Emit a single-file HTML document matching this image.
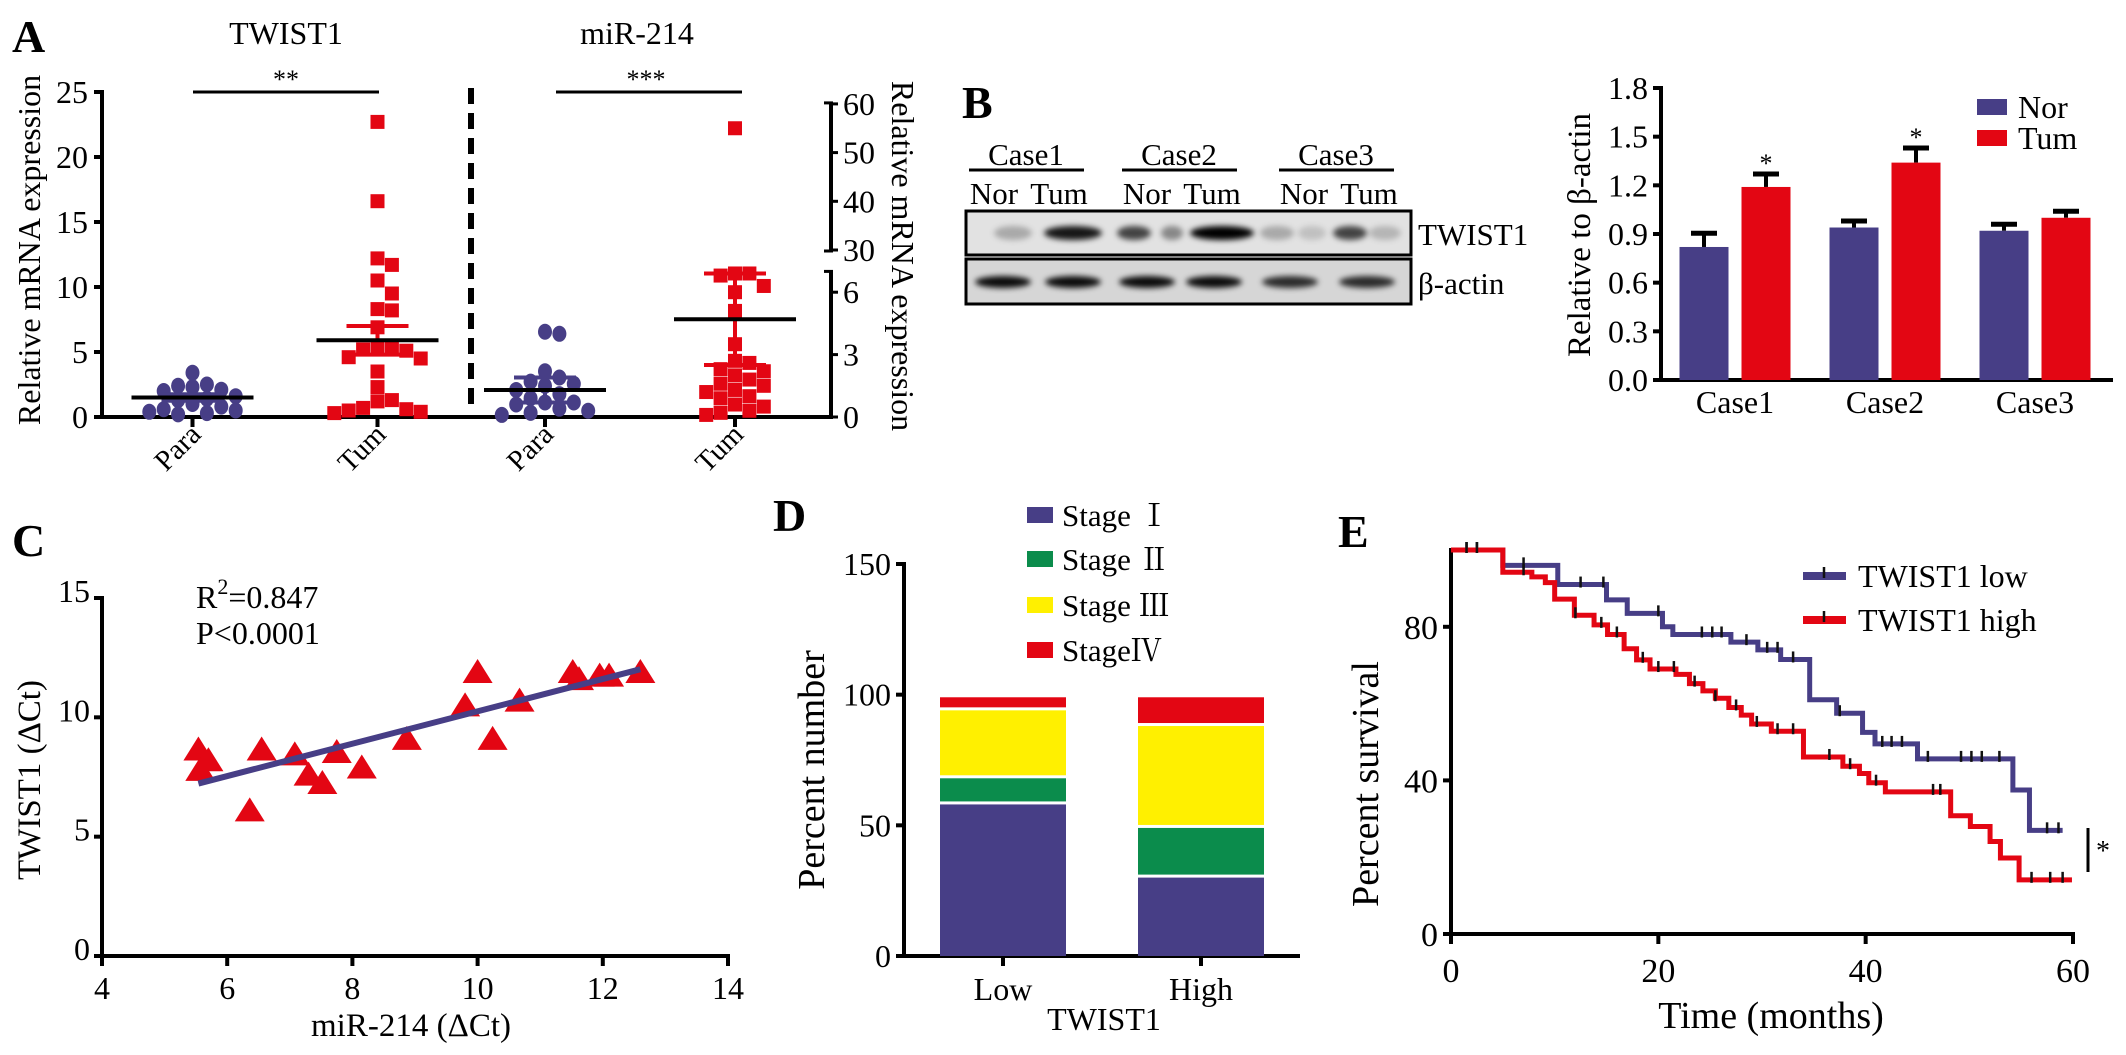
<!DOCTYPE html>
<html><head><meta charset="utf-8"><style>
html,body{margin:0;padding:0;background:#fff;}
svg{display:block;}
svg text{font-family:"Liberation Serif","Noto Serif CJK SC",serif;}
</style></head><body>
<svg id="fig" width="2126" height="1055" viewBox="0 0 2126 1055" xmlns="http://www.w3.org/2000/svg" font-family="Liberation Serif, Noto Serif CJK SC, serif">
<defs><filter id="blur" x="-50%" y="-50%" width="200%" height="200%"><feGaussianBlur stdDeviation="3"/></filter></defs>
<g id="panelA">
<text x="12" y="52" font-size="46" font-weight="bold">A</text>
<text x="286" y="44" font-size="32" text-anchor="middle">TWIST1</text>
<text x="637" y="44" font-size="32" text-anchor="middle">miR-214</text>
<text x="286" y="88" font-size="26" text-anchor="middle">**</text>
<line x1="193" y1="92" x2="379" y2="92" stroke="#000" stroke-width="3"/>
<text x="646" y="88" font-size="26" text-anchor="middle">***</text>
<line x1="556" y1="92" x2="742" y2="92" stroke="#000" stroke-width="3"/>
<line x1="471" y1="88" x2="471" y2="408" stroke="#000" stroke-width="6" stroke-dasharray="16,9"/>
<text transform="translate(40,250) rotate(-90)" font-size="32" text-anchor="middle">Relative mRNA expression</text>
<text transform="translate(892,256) rotate(90)" font-size="32" text-anchor="middle">Relative mRNA expression</text>
</g>
<g id="panelB">
<text x="962" y="118" font-size="46" font-weight="bold">B</text>
<rect x="966" y="211" width="445" height="44" fill="#e2e2e2" stroke="#000" stroke-width="3"/>
<rect x="966" y="259" width="445" height="45" fill="#d6d6d6" stroke="#000" stroke-width="3"/>
<text x="1418" y="245" font-size="31">TWIST1</text>
<text x="1418" y="294" font-size="31">β-actin</text>
<text transform="translate(1590,235) rotate(-90)" font-size="33" text-anchor="middle">Relative to β-actin</text>
</g>
<g id="panelC">
<text x="12" y="556" font-size="46" font-weight="bold">C</text>
<text x="196" y="608" font-size="32">R<tspan dy="-14" font-size="22">2</tspan><tspan dy="14">=0.847</tspan></text>
<text x="196" y="644" font-size="32">P&lt;0.0001</text>
<text transform="translate(40,780) rotate(-90)" font-size="33" text-anchor="middle">TWIST1 (ΔCt)</text>
<text x="411" y="1036" font-size="33" text-anchor="middle">miR-214 (ΔCt)</text>
</g>
<g id="panelD">
<text x="773" y="531" font-size="46" font-weight="bold">D</text>
<text transform="translate(824,770) rotate(-90)" font-size="38" text-anchor="middle">Percent number</text>
<text x="1104" y="1030" font-size="32" text-anchor="middle">TWIST1</text>
</g>
<g id="panelE">
<text x="1338" y="547" font-size="46" font-weight="bold">E</text>
<text transform="translate(1378,784) rotate(-90)" font-size="38" text-anchor="middle">Percent survival</text>
<text x="1771" y="1028" font-size="38" text-anchor="middle">Time (months)</text>
<line x1="2088" y1="828" x2="2088" y2="872" stroke="#000" stroke-width="3"/>
<text x="2096" y="860" font-size="28">*</text>
</g>
</svg>
<script>
// ---------- Panel A data ----------
const aCats = ['Para','Tum','Para','Tum'];
const twistPara = [3.4,2.5,2.4,2.3,2.1,2.0,1.6,1.4,1.3,1.0,0.8,0.6,0.5,0.4,0.3,0.2];
const twistTum = [22.7,16.6,12.2,11.7,10.5,9.5,8.3,8.2,6.9,5.3,5.3,5.2,5.1,4.6,4.5,3.5,2.3,1.3,1.2,0.7,0.6,0.5,0.4,0.3];
const mirPara = [4.1,4.0,2.2,1.9,1.7,1.6,1.5,1.3,1.1,0.9,0.7,0.7,0.6,0.4,0.3,0.2,0.1];
const mirTum = [55,6.9,6.9,6.8,6.3,6.0,5.1,3.5,2.7,2.6,2.3,2.2,2.0,1.8,1.6,1.5,1.3,1.2,1.0,0.9,0.6,0.5,0.3,0.2,0.1];
const aMeans = [1.5,5.9,1.3,4.7];
const aErrs = [0.25,1.1,0.6,2.2];
const aLeftTicks = [0,5,10,15,20,25];
const aRightTicksLow = [0,3,6];
const aRightTicksHigh = [30,40,50,60];
// ---------- Panel B data ----------
const bCases = ['Case1','Case2','Case3'];
const bNor = [0.82,0.94,0.92];
const bTum = [1.19,1.34,1.00];
const bNorErr = [0.085,0.04,0.04];
const bTumErr = [0.08,0.09,0.04];
const bSig = ['*','*',''];
const bTicks = [0.0,0.3,0.6,0.9,1.2,1.5,1.8];
const bSeries = ['Nor','Tum'];
// ---------- Panel C data ----------
const cX = [5.54,5.57,5.7,6.36,6.55,7.08,7.3,7.52,7.75,8.15,8.87,9.8,10.0,10.24,10.67,11.52,11.62,11.95,12.1,12.6];
const cY = [8.65,7.8,8.2,6.1,8.65,8.45,7.6,7.25,8.55,7.9,9.1,10.5,11.9,9.1,10.7,11.9,11.6,11.75,11.75,11.9];
const cXTicks = [4,6,8,10,12,14];
const cYTicks = [0,5,10,15];
// ---------- Panel D data ----------
const dGroups = ['Low','High'];
const dStages = ['Stage Ⅰ','Stage Ⅱ','Stage Ⅲ','StageⅣ'];
const dLow = [58,10,26,5];
const dHigh = [30,19,39,11];
const dTicks = [0,50,100,150];
// ---------- Panel E data ----------
const eLowT = [5,10.3,15,17,20.4,21.4,27,29.6,31.8,34.6,37.2,39.7,40.9,45,54.2,55.8];
const eLowS = [96,91,87,83.5,80,78,76,74,71.5,61,57.5,52.5,49.5,45.6,37.5,27];
const eLowEnd = 59;
const eLowCens = [1.5,2.5,7,12.5,14.7,20,24.2,25.2,26.1,28.5,30.5,31.5,33,37.5,41.6,42.5,43.5,46,49.2,50.2,51.2,52.9,57.5,58.6];
const eHighT = [5,7.8,9.1,10,11.9,13.8,15.1,16.7,17.9,19.2,21.7,23,24.3,25.5,26.8,28,29,30.9,34,37.8,39.4,40.3,41.9,48.2,50.1,52,53,54.8];
const eHighS = [94.2,93,91.5,87.2,83,80.5,78,74.3,71.4,69,67.6,65.2,63.3,61.4,59,57,54.7,52.8,46.1,43.7,41.8,39.4,37,30.8,28,24.1,19.8,14.1];
const eHighEnd = 59.9;
const eHighCens = [1.5,2.5,7,12,14.5,16,18.5,20,21.5,23.5,25.5,27.5,29.5,31.5,33,36.5,38.5,41,46.5,47.2,56,57.8,59];
const eXTicks = [0,20,40,60];
const eYTicks = [0,40,80];
const eSeries = ['TWIST1 low','TWIST1 high'];

const NS='http://www.w3.org/2000/svg';
const svg=document.getElementById('fig');
const BLUE='#473e86', RED='#e30613', GREEN='#0b8c4c', YEL='#fff000';
const FONT='Liberation Serif, Noto Serif CJK SC, serif';
function mk(tag,attrs,parent){const e=document.createElementNS(NS,tag);for(const k in attrs)e.setAttribute(k,attrs[k]);(parent||svg).appendChild(e);return e;}
function line(x1,y1,x2,y2,w,c){return mk('line',{x1:x1,y1:y1,x2:x2,y2:y2,stroke:c||'#000','stroke-width':w||4});}
function txt(x,y,s,size,anchor){const t=mk('text',{x:x,y:y,'font-size':size,'font-family':FONT,'text-anchor':anchor||'middle'});t.textContent=s;return t;}

// ===== Panel A =====
const aY0=417, aY25=92;
const yAL = v => aY0 - (aY0-aY25)*v/25;
const yAR = v => v<=7 ? 417 - v*20.8 : 250 - (v-30)*4.87;
const xA = i => { const g=Math.floor(i/2), k=i%2; const r = g===0?[100,470]:[450,830]; const bw=(r[1]-r[0])/2; return r[0]+bw*(k+0.5); };
let e;
e=line(102,90,102,419,4);


e=line(100,417,833,417,4);


aLeftTicks.forEach(v=>{
  e=line(94,yAL(v),102,yAL(v),4);
  
  
  e=txt(88,yAL(v)+11,String(v),32,'end');
  
  
});
e=line(831,yAR(60)-2,831,yAR(30)+2,4);


e=line(831,yAR(7),831,419,4);


[yAR(60)-1,yAR(30)+1,yAR(7)].forEach(y=>{ e=line(824,y,833,y,3);   });
aRightTicksLow.concat(aRightTicksHigh).forEach(v=>{
  e=line(831,yAR(v),838,yAR(v),3);
  
  
  e=txt(843,yAR(v)+11,String(v),32,'start');
  
  
});
aCats.forEach((c,i)=>{
  e=line(xA(i),417,xA(i),427,4);
  
  
  e=mk('text',{transform:`translate(${xA(i)+10},${436}) rotate(-45)`,'font-size':29,'font-family':FONT,'text-anchor':'end'});
  e.textContent=c;
  
  
});
function swarm(vals,cx,yf,d){
  const placed=[];const out=[];
  vals.forEach(v=>{const y=yf(v);let x=cx;
    for(let n=0;n<60;n++){const off=(n%2?1:-1)*Math.ceil(n/2)*d*0.9;x=cx+off;
      if(!placed.some(p=>Math.abs(p[0]-x)<d*0.85&&Math.abs(p[1]-y)<d*0.85))break;}
    placed.push([x,y]);out.push([x,y]);});
  return out;
}
const aGroups=[twistPara,twistTum,mirPara,mirTum];
aGroups.forEach((vals,i)=>{
  const yf = i<2?yAL:yAR;
  const isPara = i%2===0;
  const col = isPara?BLUE:RED;
  swarm(vals,xA(i),yf,16).forEach(p=>{
    if(isPara){ e=mk('ellipse',{cx:p[0],cy:p[1],rx:7,ry:8,fill:col});  }
    else { e=mk('rect',{x:p[0]-7,y:p[1]-7,width:14,height:14,fill:col});  }
    
  });
  const m=yf(aMeans[i]), hi=yf(aMeans[i]+aErrs[i]), lo=yf(Math.max(0,aMeans[i]-aErrs[i]));
  e=line(xA(i),hi,xA(i),lo,4,col);
  
  
  e=line(xA(i)-31,hi,xA(i)+31,hi,4,col);
  
  
  e=line(xA(i)-31,lo,xA(i)+31,lo,4,col);
  
  
  e=line(xA(i)-61,m,xA(i)+61,m,4,'#000');
  
  
});

// ===== Panel B blot =====
const caseCenters=[1026,1179,1336];
bCases.forEach((c,i)=>{
  const cx=caseCenters[i];
  e=txt(cx,165,c,31);
  
  
  e=line(cx-57,170,cx+58,170,3);
  
  
  e=txt(cx-32,204,'Nor',31);
  
  
  e=txt(cx+33,204,'Tum',31);
  
  
});
const twBands=[[1013,0.25,30],[1073,0.9,50],[1134,0.7,26],[1172,0.4,14],[1222,1,56],[1277,0.25,26],[1312,0.15,20],[1350,0.7,26],[1385,0.2,24]];
twBands.forEach(b=>{ e=mk('ellipse',{cx:b[0],cy:233,rx:b[2]/2+4,ry:7,fill:'#000','fill-opacity':b[1],filter:'url(#blur)'});   });
[1003,1073,1147,1214,1290,1367].forEach((x,i)=>{ e=mk('ellipse',{cx:x,cy:282,rx:28,ry:6,fill:'#000','fill-opacity':i>3?0.8:0.95,filter:'url(#blur)'});   });

// ===== Panel B chart =====
const yB = v => 380 - v*(380-88)/1.8;
const xB = i => 1735 + i*150;
e=line(1661,86,1661,382,4);


e=line(1659,380,2113,380,4);


bTicks.forEach(v=>{
  e=line(1653,yB(v),1661,yB(v),4);
  
  
  e=txt(1648,yB(v)+11,v.toFixed(1),32,'end');
  
  
});
bCases.forEach((c,i)=>{
  [[bNor[i],bNorErr[i],BLUE,-31],[bTum[i],bTumErr[i],RED,31]].forEach((s,j)=>{
    const cx=xB(i)+s[3];
    e=line(cx,yB(s[0]),cx,yB(s[0]+s[1]),4);
    
    
    e=line(cx-13,yB(s[0]+s[1]),cx+13,yB(s[0]+s[1]),5);
    
    
    e=mk('rect',{x:cx-24.5,y:yB(s[0]),width:49,height:380-yB(s[0]),fill:s[2]});
    
    
  });
  if(bSig[i]){ e=txt(xB(i)+31,yB(bTum[i]+bTumErr[i])-2,bSig[i],26);   }
  e=txt(xB(i),413,c,32);
  
  
});
bSeries.forEach((s,i)=>{
  e=mk('rect',{x:1977,y:99+i*31,width:30,height:16,fill:i?RED:BLUE});
  
  
  e=txt(2018,118+i*31,s,32,'start');
  
  
});

// ===== Panel C =====
const xC = v => 102 + (v-4)*(728-102)/10;
const yC = v => 956 - v*(956-598)/15;
e=line(102,596,102,958,4);


e=line(100,956,730,956,4);


cYTicks.forEach(v=>{
  e=line(94,yC(v),102,yC(v),4);
  
  
  e=txt(90,yC(v)+4,String(v),32,'end');
  
  
});
cXTicks.forEach(v=>{
  e=line(xC(v),956,xC(v),966,4);
  
  
  e=txt(xC(v),999,String(v),32);
  
  
});
cX.forEach((x,i)=>{
  const px=xC(x), py=yC(cY[i]);
  e=mk('polygon',{points:`${px},${py-13} ${px-15},${py+11} ${px+15},${py+11}`,fill:RED});
  
  
});
(function(){const n=cX.length;const mx=cX.reduce((a,b)=>a+b)/n,my=cY.reduce((a,b)=>a+b)/n;
 let sxy=0,sxx=0;cX.forEach((x,i)=>{sxy+=(x-mx)*(cY[i]-my);sxx+=(x-mx)**2;});
 const b=sxy/sxx,a=my-b*mx;const x0=Math.min(...cX),x1=Math.max(...cX);
 e=line(xC(x0),yC(a+b*x0),xC(x1),yC(a+b*x1),6,BLUE);
 
 
})();

// ===== Panel D =====
const yD = v => 956 - v*(956-564)/150;
const xD = i => 1003 + i*198;
const stageCols=[BLUE,GREEN,YEL,RED];
e=line(904,562,904,958,4);


e=line(902,956,1300,956,4);


dTicks.forEach(v=>{
  e=line(896,yD(v),904,yD(v),4);
  
  
  e=txt(891,yD(v)+11,String(v),32,'end');
  
  
});
[dLow,dHigh].forEach((vals,g)=>{
  let acc=0;
  vals.forEach((v,s)=>{
    const top=yD(acc+v), bot=yD(acc);
    e=mk('rect',{x:xD(g)-63,y:top,width:126,height:Math.max(0,bot-top-(s?3:0)),fill:stageCols[s]});
    
    
    acc+=v;
  });
  e=line(xD(g),956,xD(g),966,4);
  
  
  e=txt(xD(g),1000,dGroups[g],32);
  
  
});
dStages.forEach((s,i)=>{
  const y=[515,559,605,650][i];
  e=mk('rect',{x:1027,y:y-8,width:26,height:16,fill:stageCols[i]});
  
  
  e=txt(1062,y+11,s,31,'start');
  
  
});

// ===== Panel E =====
const xE = v => 1451 + v*(2073-1451)/60;
const yE = v => 934 - v*(934-550)/100;
e=line(1451,548,1451,936,4);


e=line(1449,934,2075,934,4);


eYTicks.forEach(v=>{
  e=line(1443,yE(v),1451,yE(v),4);
  
  
  e=txt(1438,yE(v)+12,String(v),34,'end');
  
  
});
eXTicks.forEach(v=>{
  e=line(xE(v),934,xE(v),944,4);
  
  
  e=txt(xE(v),982,String(v),34);
  
  
});
function survAt(T,S,t){let s=100;for(let i=0;i<T.length;i++){if(T[i]<=t)s=S[i];}return s;}
function km(T,S,end,cens,col,name){
  let d=`M${xE(0)},${yE(100)}`;
  T.forEach((t,i)=>{d+=` H${xE(t)} V${yE(S[i])}`;});
  d+=` H${xE(end)}`;
  e=mk('path',{d:d,fill:'none',stroke:col,'stroke-width':5});
  
  
  cens.forEach(t=>{const y=yE(survAt(T,S,t));
    e=line(xE(t),y-8,xE(t),y+3,2.5,'#111');
    
    });
}
km(eLowT,eLowS,eLowEnd,eLowCens,BLUE,'e-curve-low');
km(eHighT,eHighS,eHighEnd,eHighCens,RED,'e-curve-high');
eSeries.forEach((s,i)=>{
  const y=576+i*44;
  e=line(1803,y,1846,y,8,i?RED:BLUE);
  
  
  e=line(1824,y-9,1824,y+2,2.5,'#111');
  
  
  e=txt(1858,y+11,s,32,'start');
  
  
});
</script>
</body></html>
